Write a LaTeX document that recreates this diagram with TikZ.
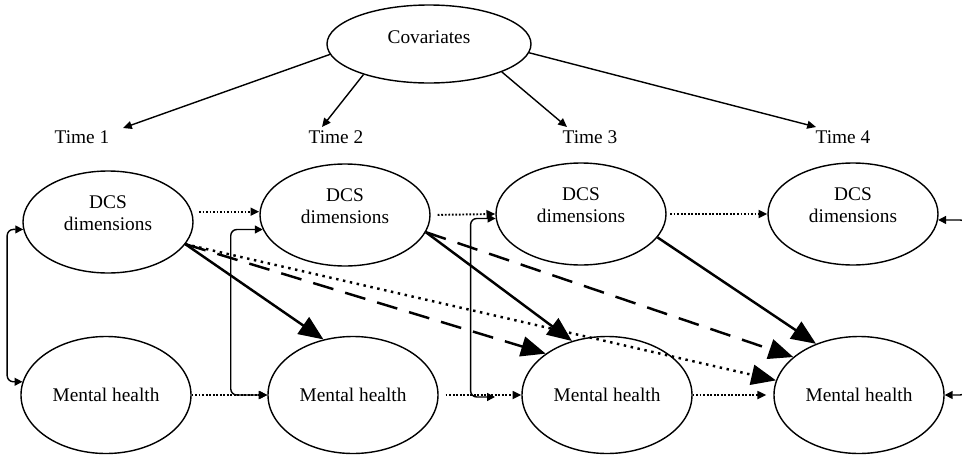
\documentclass[tikz,border=0pt]{standalone}
\usepackage{fontspec}
\setmainfont{Liberation Serif}
\usetikzlibrary{arrows.meta,shapes.geometric}

\newcommand{\lifted}[1]{\raisebox{4pt}[\height][\depth]{#1}}

\tikzset{
  oval/.style={draw, ellipse, line width=0.8pt, inner sep=0pt, align=center},
  dcs/.style={oval, minimum width=34mm, minimum height=20.4mm},
  mh/.style={oval, minimum width=34mm, minimum height=23.4mm},
  small/.style={-{Triangle[length=5pt,width=4.5pt]}, line width=0.8pt},
  big/.style={-{Triangle[length=14pt,width=11.5pt]}, line width=1.4pt},
  lag/.style={small, line width=1.1pt, dash pattern=on 1pt off 1pt},
  corr/.style={{Triangle[length=4.5pt,width=4.5pt]}-{Triangle[length=4.5pt,width=4.5pt]}, line width=0.8pt, rounded corners=3.5pt},
}

\begin{document}
\begin{tikzpicture}[x=0.2mm, y=-0.2mm, font=\fontsize{11}{12.5}\selectfont]
    \useasboundingbox (0,0) rectangle (962,455);
    \clip (0,0) rectangle (962,455);

    \node[oval, minimum width=40.8mm, minimum height=15.6mm] (cov) at (429,44) {\lifted{Covariates}};

    \foreach \i/\x in {1/82, 2/336, 3/590, 4/843}
        \node (t\i) at (\x,137) {Time \i};

    \foreach \i/\x/\y in {1/108/222, 2/345/215, 3/581/214, 4/853/214}
        \node[dcs] (d\i) at (\x,\y) {\lifted{\begin{tabular}{@{}c@{}}DCS\\dimensions\end{tabular}}};

    \foreach \i/\x in {1/106, 2/353, 3/607, 4/859}
        \node[mh] (m\i) at (\x,395) {Mental health};

    \coordinate (p1) at (123,128);
    \coordinate (p2) at (322,127);
    \coordinate (p3) at (567,127);
    \coordinate (p4) at (816,127);
    \coordinate (c3) at (495,397);

    \draw[small] (cov.186) -- (p1);
    \draw[small] (cov.205) -- (p2);
    \draw[small] (cov.-21) -- (p3);
    \draw[small] (cov.-5) -- (p4);

    \draw[lag, shorten <=4pt] (d1.7) -- (d1.7 -| d2.west);
    \draw[lag, shorten <=4pt] (d2.east) -- (d3.west);
    \draw[lag, shorten <=2pt] (d3.east) -- (d4.west);
    \draw[lag] (m1.east) -- (m2.west);
    \draw[lag, shorten <=4pt] (m2.east) -- (m3.west);
    \draw[lag, shorten >=4pt] (m3.east) -- (m4.west);

    \draw[corr] (d1.185) -- ++(-16,0) |- (m1.171);
    \draw[corr] (d2.190) -- ++(-32,0) |- (m2.west);
    \draw[corr] (d3.183) -- ++(-25,0) |- (c3);
    \draw[corr] (d4.-4) -- ++(28,0) |- (m4.east);

    \draw[big] (d1.-16) -- (m2.118);
    \draw[big] (d2.-12) -- (m3.123);
    \draw[big] (d3.-17) -- (m4.130);
    \draw[big, dash pattern=on 12pt off 7pt] (d1.-16) -- (m3.146);
    \draw[big, dash pattern=on 12pt off 7pt] (d2.-12) -- (m4.150);
    \draw[big, dash pattern=on 1.4pt off 2.6pt] (d1.-16) -- (m4.170);
\end{tikzpicture}
\end{document}
